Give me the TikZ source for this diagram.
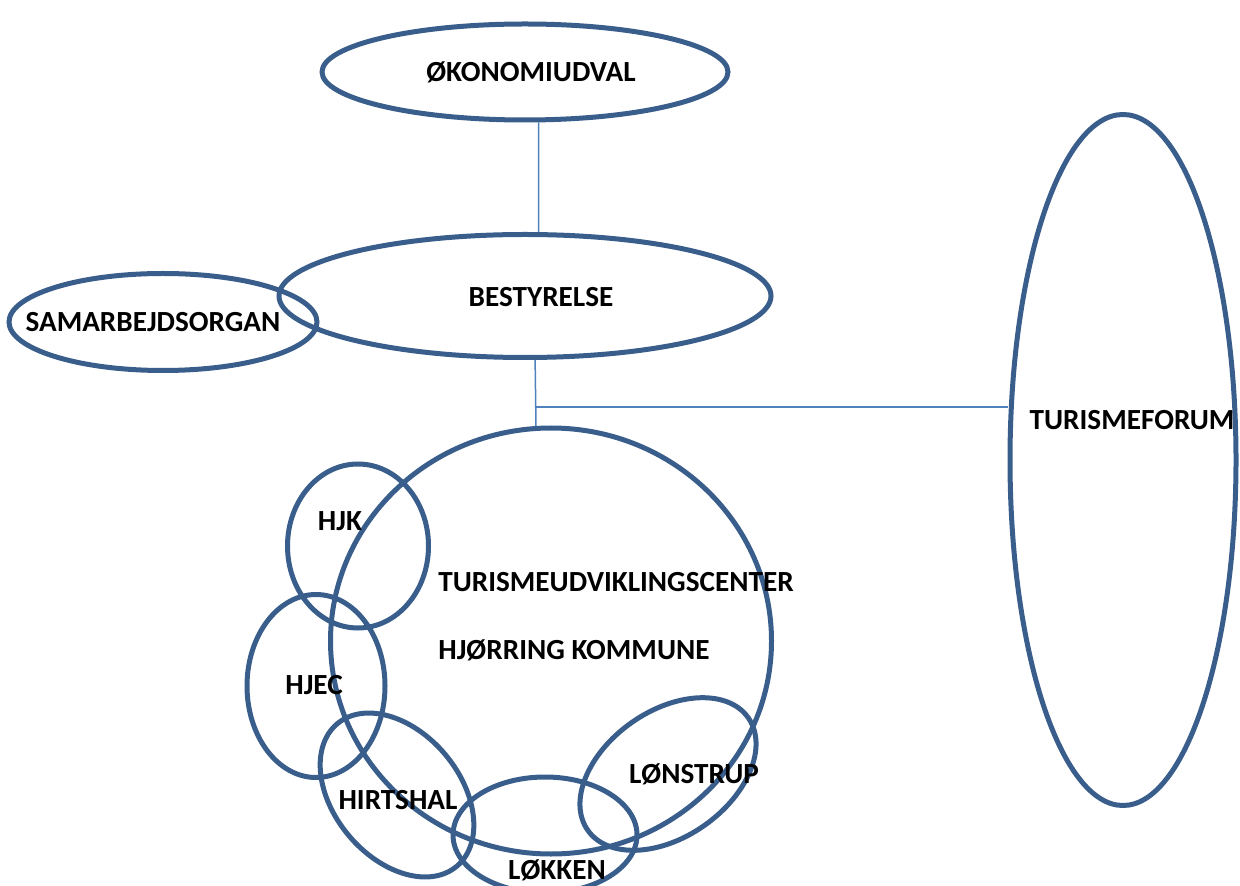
\documentclass[tikz,border=0pt]{standalone}
\usepackage{fontspec}
\setmainfont{Carlito}
\usepackage{tikz}
\usetikzlibrary{shapes.geometric,calc}
\definecolor{ringblue}{RGB}{58,94,140}
\definecolor{linkblue}{RGB}{79,129,189}
\tikzset{ring/.style={ellipse, draw=ringblue, line width=2.5pt, inner sep=0pt},
         link/.style={draw=linkblue, line width=0.75pt},
         lbl/.style={inner sep=0pt, font=\bfseries\fontsize{14.6}{17}\selectfont}}

\begin{document}
\begin{tikzpicture}[x=0.5pt,y=-0.5pt]
\useasboundingbox (0,0) rectangle (1240,886);
% the rings
\node[ring, minimum width=203pt, minimum height=48pt] (okon) at (525,72) {};
\node[ring, minimum width=246pt, minimum height=61.5pt] (best) at (525,296) {};
\node[ring, minimum width=154pt, minimum height=48.5pt] (samar) at (163,322) {};
\node[ring, minimum width=113pt, minimum height=345.5pt] (forum) at (1123,460) {};
\node[ring, minimum width=220.5pt, minimum height=213pt] (hub) at (551,641) {};
\node[ring, minimum width=70.5pt, minimum height=82pt] (hjk) at (358,546) {};
\node[ring, minimum width=69pt, minimum height=91.5pt] (hjec) at (316,686) {};
\node[ring, minimum width=93pt, minimum height=63pt, rotate=-50] (hirt) at (397,795) {};
\node[ring, minimum width=92pt, minimum height=58pt] (loek) at (545,835) {};
\node[ring, minimum width=98pt, minimum height=63pt, rotate=35] (loen) at (668,774) {};
% the texts
\node[lbl] (okontxt) at (531,72) {ØKONOMIUDVAL};
\node[lbl] (besttxt) at (541,297) {BESTYRELSE};
\node[lbl] (samartxt) at (153,322) {SAMARBEJDSORGAN};
\node[lbl] (forumtxt) at (1132,420) {TURISMEFORUM};
\node[lbl, anchor=west] (hubtxt) at (438,582) {TURISMEUDVIKLINGSCENTER};
\node[lbl, anchor=west] (kommtxt) at (438,650) {HJØRRING KOMMUNE};
\node[lbl] (hjktxt) at (340,521) {HJK};
\node[lbl] (hjectxt) at (314,685) {HJEC};
\node[lbl] (hirttxt) at (398,800) {HIRTSHAL};
\node[lbl] (loektxt) at (557,870) {LØKKEN};
\node[lbl] (loentxt) at (694,774) {LØNSTRUP};
% the lines
\coordinate (tap) at ($(best.-81)!0.71!(hub.94)$);
\draw[link] (okon.-75) -- (best.78);
\draw[link] (best.-81) -- (hub.94);
\draw[link] (tap) -- (tap -| forum.west);
\end{tikzpicture}
\end{document}
